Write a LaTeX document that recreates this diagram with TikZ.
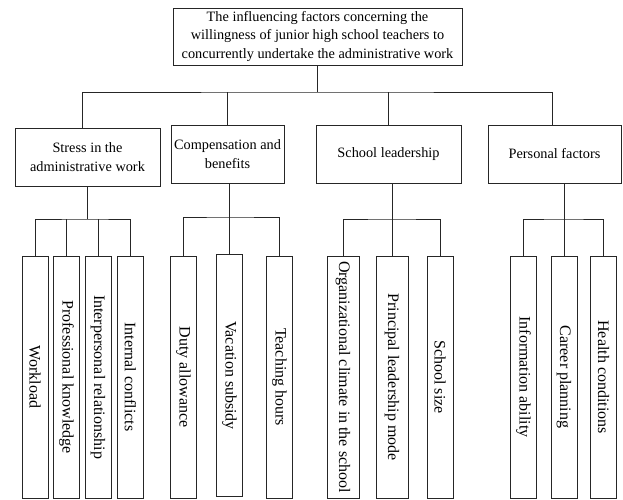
\documentclass[tikz,border=0pt]{standalone}
\usepackage{fontspec}
\setmainfont{Liberation Serif}
\usepackage{tikz}
\usetikzlibrary{positioning, calc}

\begin{document}
\begin{tikzpicture}[x=1pt,y=-1pt,line width=0.9pt,draw=black!85]
	\def \topbus{92}
	\def \botbus{219}
	\def \leafrow{377}
	\tikzstyle{t-node}=[draw,align=center,inner sep=0pt,minimum width=289pt,minimum height=57pt,font=\fontsize{14.3}{18.5}\selectfont]
	\tikzstyle{f-node}=[draw,align=center,inner sep=0pt,minimum height=58pt,font=\fontsize{14.3}{19.5}\selectfont]
	\tikzstyle{l-node}=[draw,rotate=-90,inner sep=2pt,minimum width=242pt,minimum height=26pt,font=\fontsize{16}{18}\selectfont]
	\useasboundingbox (0,0) rectangle (623,499);
	
	% root
	\node[t-node] 	(root)	at (317.5,36.5)	{The influencing factors concerning the\\willingness of junior high school teachers to\\concurrently undertake the administrative work};
	
	% factors
	\node[f-node,minimum width=145pt] 	(stress)	at (87.5,157)	{Stress in the\\administrative work};
	\node[f-node,minimum width=113pt] 	(comp)		at (227.5,154)	{Compensation and\\benefits};
	\node[f-node,minimum width=145pt] 	(lead)		at (388.5,154)	{School leadership};
	\node[f-node,minimum width=133pt] 	(pers)		at (554.5,154)	{Personal factors};
	
	% stress leaves
	\node[l-node] 	(work)	at (35,\leafrow)	{Workload};
	\node[l-node] 	(prof)	at (66.5,\leafrow)	{Professional knowledge};
	\node[l-node] 	(inter)	at (98,\leafrow)	{Interpersonal relationship};
	\node[l-node] 	(conf)	at (130.5,\leafrow)	{Internal conflicts};
	
	% compensation leaves
	\node[l-node] 	(duty)	at (183.5,\leafrow)	{Duty allowance};
	\node[l-node] 	(vac)	at (229.5,375.5)	{Vacation subsidy};
	\node[l-node] 	(teach)	at (279.5,\leafrow)	{Teaching hours};
	
	% leadership leaves
	\node[l-node,minimum height=32pt] 	(clim)	at (343,\leafrow)	{Organizational climate in the school};
	\node[l-node,minimum height=32pt] 	(prin)	at (392,\leafrow)	{Principal leadership mode};
	\node[l-node] 	(size)	at (440,\leafrow)	{School size};
	
	% personal leaves
	\node[l-node] 	(info)	at (523.5,\leafrow)	{Information ability};
	\node[l-node] 	(car)	at (564,\leafrow)	{Career planning};
	\node[l-node] 	(health)	at (603.5,\leafrow)	{Health conditions};
	
	% buses
	\coordinate (rj) at (317.5,\topbus);
	\coordinate (sj) at (87,\botbus);
	\coordinate (cj) at (229.5,217);
	\coordinate (lj) at (392,\botbus);
	\coordinate (pj) at (564,\botbus);
	
	\draw (root.south) -- (rj);
	\draw ([xshift=-5.5pt]stress.north) |- (rj) -| ([xshift=-2.5pt]pers.north);
	\draw (comp.north) -- (comp.north |- rj);
	\draw (lead.north) -- (lead.north |- rj);
	%
	\draw (stress.south -| sj) -- (sj);
	\draw (work.west) |- (sj) -| (conf.west);
	\draw (prof.west) -- (prof.west |- sj);
	\draw (inter.west) -- (inter.west |- sj);
	%
	\draw (comp.south -| cj) -- (vac.west);
	\draw (duty.west) |- (cj) -| (teach.west);
	%
	\draw (lead.south -| lj) -- (prin.west);
	\draw (clim.west) |- (lj) -| (size.west);
	%
	\draw (pers.south -| pj) -- (car.west);
	\draw (info.west) |- (pj) -| (health.west);
\end{tikzpicture}
\end{document}
